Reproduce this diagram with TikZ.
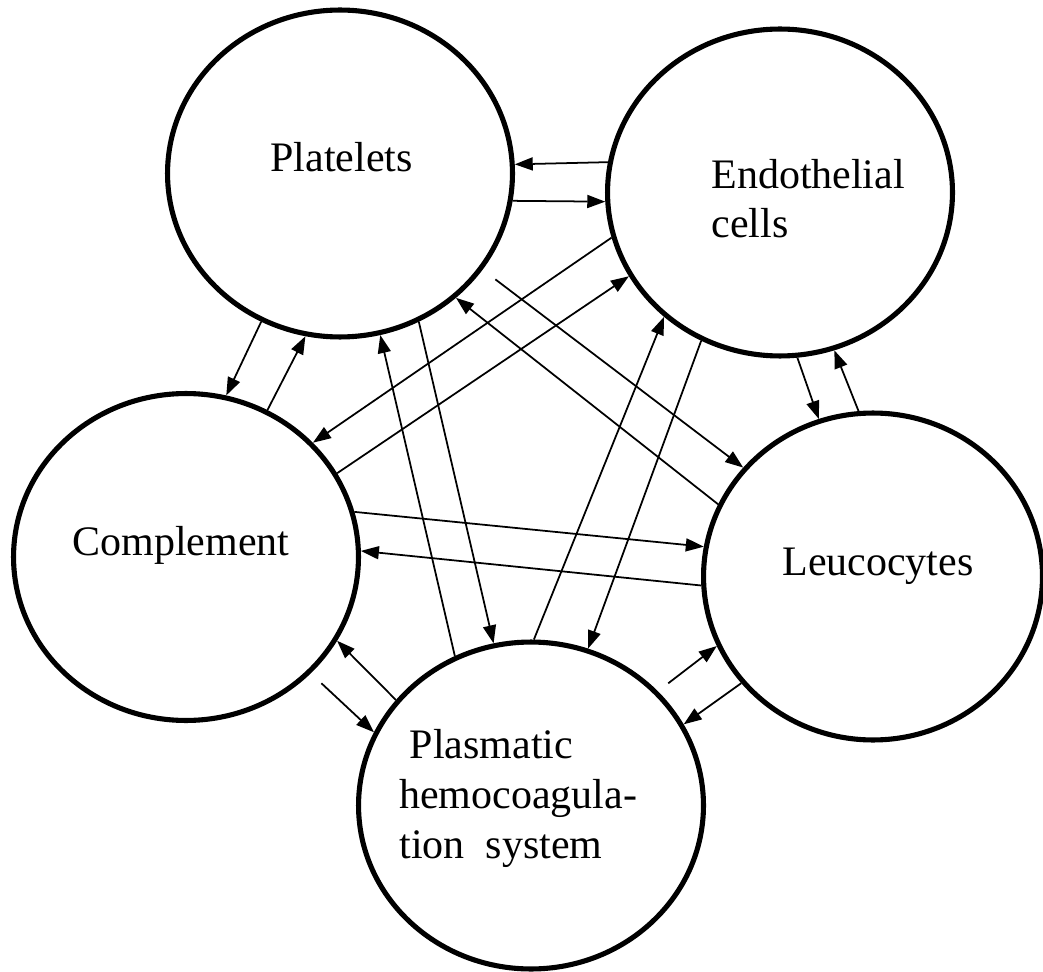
\documentclass[tikz,border=0pt]{standalone}
\usepackage{fontspec}
\setmainfont{Liberation Serif}
\usetikzlibrary{arrows.meta}
\usetikzlibrary{shapes.geometric}

\begin{document}
\begin{tikzpicture}[x=0.02cm,y=0.02cm,
  cell/.style={draw,ellipse,line width=2.9pt,minimum width=6.9cm,minimum height=6.54cm,inner sep=0pt},
  lbl/.style={font=\fontsize{23.9}{28.45}\selectfont,align=left,inner sep=0pt,anchor=base west},
  link/.style={-{Triangle[length=0.36cm,width=0.26cm]},line width=1pt}]
\useasboundingbox (0,0) rectangle (1043,971);
% the five cells
\node[cell] (plt) at (340,797.5) {};
\node[cell] (endo) at (780,778.5) {};
\node[cell] (comp) at (186,414) {};
\node[cell,minimum width=6.78cm] (leuc) at (873,394.5) {};
\node[cell] (plas) at (531,165.5) {};
% their names (base = last line)
\node[lbl] (pltT) at (270,799) {Platelets};
\node[lbl] (endoT) at (711,733) {Endothelial\\cells};
\node[lbl] (compT) at (72,416) {Complement};
\node[lbl] (leucT) at (782,396) {Leucocytes};
\node[lbl] (plasT) at (399,113) {\hspace*{0.21cm}Plasmatic\\hemocoagula-\\tion~~system};
% interactions
\draw[link] (endo.170.6) -- (plt.3.1);
\draw[link] (plt.-9.3) -- (endo.183.1);
\draw[link] (plt.-118.2) -- (comp.76.6);
\draw[link] (comp.61.9) -- (plt.-102.9);
\draw[link] (plas.117.9) -- (plt.-76.7);
\draw[link] (plt.-62.4) -- (plas.103.2);
\draw[link] (endo.195.7) -- (comp.42.6);
\draw[link] (comp.29.1) -- (endo.209.7);
\draw[link,shorten <=0.32cm] (plt.-34.2) -- (leuc.140.9);
\draw[link] (leuc.155.3) -- (plt.-47.4);
\draw[link] (comp.15.3) -- (leuc.170.5);
\draw[link] (leuc.183.2) -- (comp.2.6);
\draw[link] (plas.89.6) -- (endo.227.9);
\draw[link] (endo.242.6) -- (plas.70.2);
\draw[link] (endo.276.8) -- (leuc.109.4);
\draw[link] (leuc.95.6) -- (endo.289.3);
\draw[link,shorten <=0.26cm] (plas.42.4) -- (leuc.204.7);
\draw[link] (leuc.219.1) -- (plas.28.9);
\draw[link] (plas.142) -- (comp.-29.7);
\draw[link,shorten <=0.29cm] (comp.-43) -- (plas.155.7);
\end{tikzpicture}
\end{document}
